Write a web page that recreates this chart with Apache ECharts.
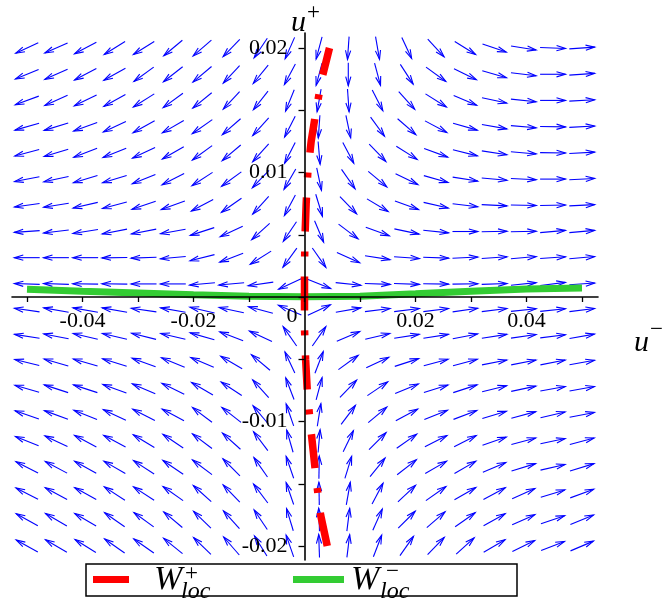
<!DOCTYPE html>
<html><head><meta charset="utf-8">
<script src="https://cdn.jsdelivr.net/npm/echarts@6/dist/echarts.min.js"></script>
<style>html,body{margin:0;padding:0;background:#fff}#c{width:666px;height:599px}</style>
</head><body><div id="c"></div>
<script>
// arrow sample points of the direction field
const arrowX = [-0.05, -0.04474, -0.03947, -0.03421, -0.02895, -0.02368, -0.01842, -0.01316, -0.00789, -0.00263,
                0.00263, 0.00789, 0.01316, 0.01842, 0.02368, 0.02895, 0.03421, 0.03947, 0.04474, 0.05];
const arrowY = [0.02, 0.01789, 0.01579, 0.01368, 0.01158, 0.00947, 0.00737, 0.00526, 0.00316, 0.00105,
                -0.00105, -0.00316, -0.00526, -0.00737, -0.00947, -0.01158, -0.01368, -0.01579, -0.01789, -0.02];
// arrow direction (degrees, counter-clockwise from +x), one row per arrowY value
const arrowAngles = [
 [205,204,208,212,212,220,221,226,236,246,255,266,280,295,313,328,341,351,358,4],
 [202,204,208,209,216,218,220,227,231,242,255,270,285,303,324,334,344,353,0,4],
 [200,204,206,209,212,216,219,227,232,248,260,274,297,312,328,337,348,354,0,3],
 [196,197,200,205,209,210,215,221,228,243,266,282,306,319,332,344,350,355,359,3],
 [195,197,201,202,205,210,216,220,228,243,275,298,314,328,340,346,351,355,359,3],
 [191,192,197,197,202,207,213,216,226,240,282,305,320,334,344,351,355,357,0,3],
 [188,189,193,195,199,200,208,215,228,242,287,314,329,340,347,353,357,359,1,3],
 [184,187,189,191,191,190,198,205,222,236,293,323,340,348,354,0,1,1,5,5],
 [180,180,180,181,182,185,194,201,212,234,305,336,351,356,358,3,4,5,4,5],
 [178,178,179,179,180,180,185,185,188,205,338,354,358,358,359,1,2,6,7,4],
 [172,170,170,170,172,170,167,168,165,157,25,10,7,7,7,8,7,6,6,7],
 [171,169,167,167,166,167,164,159,155,125,55,23,13,9,9,11,9,8,7,10],
 [166,164,164,163,160,158,157,150,140,115,69,36,25,18,15,15,11,11,11,10],
 [164,162,162,160,157,154,150,147,132,111,75,46,34,22,17,18,14,12,10,10],
 [161,160,158,155,153,152,143,142,130,109,81,53,40,28,22,21,17,15,13,11],
 [158,155,152,152,149,146,143,138,127,106,85,64,45,35,27,27,19,15,12,15],
 [153,152,151,150,147,146,143,135,125,109,89,73,51,38,30,30,23,17,13,17],
 [153,152,151,147,147,145,138,134,127,109,91,80,62,43,35,30,28,24,17,20],
 [151,150,150,145,144,140,136,132,124,107,92,83,66,45,41,35,29,24,19,22],
 [151,150,148,145,145,141,136,131,122,109,92,83,69,55,46,42,30,26,21,23]
];
// W+_loc curve (bottom to top)
const wPlusY = [-0.0200, -0.0175, -0.0150, -0.0125, -0.0100, -0.0075, -0.0050, -0.0025, 0, 0.0025, 0.0050, 0.0075, 0.0100, 0.0125, 0.0150, 0.0175, 0.0200];
const wPlusX = [0.0041, 0.0029, 0.0022, 0.0016, 0.0010, 0.0005, 0.0002, 0.0000, 0, 0.0000, 0.0001, 0.0003, 0.0006, 0.0012, 0.0021, 0.0031, 0.0045];
// W-_loc curve
const wMinusX = [-0.05, -0.04, -0.03, -0.02, -0.01, 0, 0.01, 0.02, 0.03, 0.04, 0.05];
const wMinusY = [0.00063, 0.00046, 0.00032, 0.00018, 0.00007, 0.00003, 0.00007, 0.00026, 0.00046, 0.00064, 0.00073];
// tick labels
const xLabelValues = [-0.04, -0.02, 0, 0.02, 0.04];
const xLabelTexts = ['-0.04', '-0.02', '{z|0}', '0.02', '0.04'];
const yLabelValues = [-0.02, -0.01, 0.01, 0.02];
const yLabelTexts = ['-0.02', '-0.01', '0.01', '0.02'];
const seriesNames = ['W+loc', 'W-loc'];

const serif = '"Liberation Serif", "DejaVu Serif", serif';
const arrowData = [];
arrowY.forEach((y, r) => arrowX.forEach((x, c) => arrowData.push([x, y, arrowAngles[r][c]])));
const cellStep = [arrowX[1] - arrowX[0], arrowY[0] - arrowY[1]];

function lookup(vals, texts, v) {
  for (let i = 0; i < vals.length; i++) if (Math.abs(vals[i] - v) < 1e-9) return texts[i];
  return '';
}

const chart = echarts.init(document.getElementById('c'));
const option = {
  animation: false,
  backgroundColor: '#fff',
  grid: [
    {left: 12, right: 68, top: 33, bottom: 39, containLabel: false, outerBoundsMode: 'none'},
    {left: 27, right: 84, top: 48, bottom: 53, containLabel: false, outerBoundsMode: 'none'}
  ],
  xAxis: [
    {gridIndex: 0, type: 'value', min: -0.0527, max: 0.0529, z: 5,
     axisLine: {onZero: true, lineStyle: {color: '#000', width: 1.6}},
     axisTick: {show: false}, axisLabel: {show: false}, splitLine: {show: false}},
    {gridIndex: 1, type: 'value', min: -0.05, max: 0.05, interval: 0.01, z: 5,
     position: 'bottom', offset: -249,
     axisLine: {show: false, onZero: false},
     axisTick: {show: true, length: 5, lineStyle: {color: '#000', width: 1.3}},
     splitLine: {show: false},
     axisLabel: {show: true, margin: 13, color: '#000', fontFamily: serif, fontSize: 22,
       showMinLabel: true, showMaxLabel: true, hideOverlap: false,
       formatter: v => lookup(xLabelValues, xLabelTexts, v),
       rich: {z: {fontFamily: serif, fontSize: 22, color: '#000', padding: [0, 25, 0, 0], lineHeight: 12}}}}
  ],
  yAxis: [
    {gridIndex: 0, type: 'value', min: -0.0212, max: 0.0213, z: 5,
     axisLine: {onZero: true, lineStyle: {color: '#000', width: 1.6}},
     axisTick: {show: false}, axisLabel: {show: false}, splitLine: {show: false}},
    {gridIndex: 1, type: 'value', min: -0.02, max: 0.02, interval: 0.005, z: 5,
     position: 'left', offset: -277.5,
     axisLine: {show: false, onZero: false},
     axisTick: {show: true, length: 6, lineStyle: {color: '#000', width: 1.3}},
     splitLine: {show: false},
     axisLabel: {show: true, margin: 17, color: '#000', fontFamily: serif, fontSize: 22,
       showMinLabel: true, showMaxLabel: true, hideOverlap: false,
       formatter: v => lookup(yLabelValues, yLabelTexts, v)}}
  ],
  series: [
    {
      type: 'custom', xAxisIndex: 1, yAxisIndex: 1, z: 1, clip: false, silent: true,
      data: arrowData,
      renderItem: function (params, api) {
        const p = api.coord([api.value(0), api.value(1)]);
        const cell = api.size(cellStep, [api.value(0), api.value(1)]);
        const cw = cell[0], ch = cell[1];
        const th = api.value(2) * Math.PI / 180;
        const u = Math.cos(th) / cw, v = Math.sin(th) / ch;
        const n = Math.hypot(u, v);
        const L = 0.87;
        const dx = L * cw * u / n, dy = -L * ch * v / n;
        const tail = [p[0] - dx / 2, p[1] - dy / 2];
        const tip = [p[0] + dx / 2, p[1] + dy / 2];
        const len = Math.hypot(dx, dy);
        const ux = dx / len, uy = dy / len;
        const h = 9, w = 2.6;
        const b = [tip[0] - ux * h, tip[1] - uy * h];
        const b1 = [b[0] - uy * w, b[1] + ux * w];
        const b2 = [b[0] + uy * w, b[1] - ux * w];
        const st = {stroke: '#0000ff', lineWidth: 1.1, fill: null};
        return {type: 'group', children: [
          {type: 'polyline', shape: {points: [tail, tip]}, style: st},
          {type: 'polyline', shape: {points: [b1, tip, b2]}, style: st}
        ]};
      }
    },
    {
      name: seriesNames[1], type: 'line', xAxisIndex: 1, yAxisIndex: 1, z: 3,
      showSymbol: false, symbol: 'none', silent: true, clip: false,
      data: wMinusX.map((x, i) => [x, wMinusY[i]]),
      lineStyle: {color: '#33cc33', width: 7, cap: 'butt'}
    },
    {
      name: seriesNames[0], type: 'line', xAxisIndex: 1, yAxisIndex: 1, z: 4,
      showSymbol: false, symbol: 'none', silent: true, clip: false,
      data: wPlusY.map((y, i) => [wPlusX[i], y]),
      lineStyle: {color: '#ff0000', width: 7.5, type: [34, 20, 5, 20], cap: 'butt'}
    }
  ],
  graphic: [
    {type: 'text', x: 291, y: 23, z: 10, style: {text: 'u', font: 'italic 30px ' + serif, fill: '#000', align: 'left', verticalAlign: 'middle', textAlign: 'left', textVerticalAlign: 'middle'}},
    {type: 'text', x: 307, y: 13, z: 10, style: {text: '+', font: '23px ' + serif, fill: '#000', align: 'left', verticalAlign: 'middle', textAlign: 'left', textVerticalAlign: 'middle'}},
    {type: 'text', x: 634, y: 343, z: 10, style: {text: 'u', font: 'italic 30px ' + serif, fill: '#000', align: 'left', verticalAlign: 'middle', textAlign: 'left', textVerticalAlign: 'middle'}},
    {type: 'text', x: 650, y: 330, z: 10, style: {text: '\u2212', font: '23px ' + serif, fill: '#000', align: 'left', verticalAlign: 'middle', textAlign: 'left', textVerticalAlign: 'middle'}},
    {type: 'rect', z: 10, shape: {x: 86, y: 564, width: 431, height: 32}, style: {fill: '#fff', stroke: '#000', lineWidth: 1.5}},
    {type: 'rect', z: 11, shape: {x: 93, y: 576, width: 36, height: 7}, style: {fill: '#ff0000'}},
    {type: 'rect', z: 11, shape: {x: 293, y: 576, width: 51, height: 7}, style: {fill: '#33cc33'}},
    {type: 'text', x: 154, y: 580, z: 11, style: {text: 'W', font: 'italic 34px ' + serif, fill: '#000', align: 'left', verticalAlign: 'middle', textAlign: 'left', textVerticalAlign: 'middle'}},
    {type: 'text', x: 185, y: 574, z: 11, style: {text: '+', font: '23px ' + serif, fill: '#000', align: 'left', verticalAlign: 'middle', textAlign: 'left', textVerticalAlign: 'middle'}},
    {type: 'text', x: 181, y: 592, z: 11, style: {text: 'loc', font: 'italic 24px ' + serif, fill: '#000', align: 'left', verticalAlign: 'middle', textAlign: 'left', textVerticalAlign: 'middle'}},
    {type: 'text', x: 351, y: 580, z: 11, style: {text: 'W', font: 'italic 34px ' + serif, fill: '#000', align: 'left', verticalAlign: 'middle', textAlign: 'left', textVerticalAlign: 'middle'}},
    {type: 'text', x: 386, y: 572, z: 11, style: {text: '\u2212', font: '23px ' + serif, fill: '#000', align: 'left', verticalAlign: 'middle', textAlign: 'left', textVerticalAlign: 'middle'}},
    {type: 'text', x: 380, y: 592, z: 11, style: {text: 'loc', font: 'italic 24px ' + serif, fill: '#000', align: 'left', verticalAlign: 'middle', textAlign: 'left', textVerticalAlign: 'middle'}}
  ]
};
chart.setOption(option);
</script></body></html>
